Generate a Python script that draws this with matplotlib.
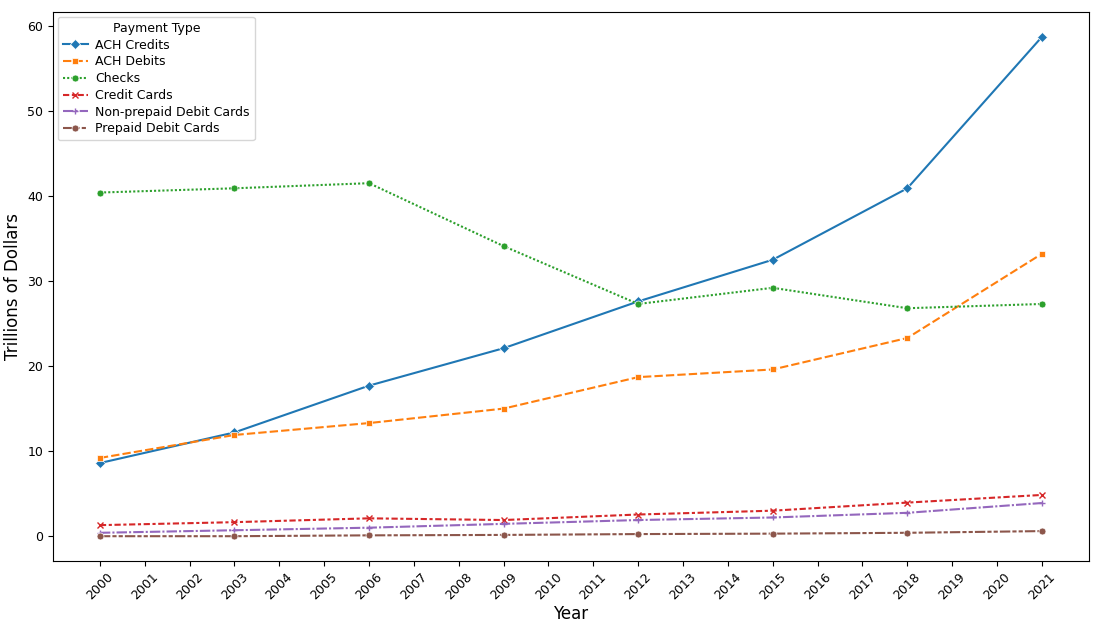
import matplotlib
matplotlib.use("Agg")
import matplotlib.pyplot as plt

years = [2000, 2003, 2006, 2009, 2012, 2015, 2018, 2021]
ach_credits = [8.6, 12.2, 17.7, 22.1, 27.6, 32.5, 40.9, 58.7]
ach_debits = [9.2, 11.9, 13.3, 15.0, 18.7, 19.6, 23.3, 33.2]
checks = [40.4, 40.9, 41.5, 34.1, 27.3, 29.2, 26.8, 27.3]
credit_cards = [1.3, 1.65, 2.1, 1.9, 2.55, 3.0, 3.95, 4.85]
nonprepaid_debit = [0.4, 0.7, 1.0, 1.45, 1.9, 2.2, 2.75, 3.9]
prepaid_debit = [0.0, 0.0, 0.1, 0.15, 0.25, 0.3, 0.4, 0.6]
tick_years = list(range(2000, 2022))

series = [
    ("ACH Credits", ach_credits, "#1f77b4", "D", (None, None)),
    ("ACH Debits", ach_debits, "#ff7f0e", "s", (4, 1.5)),
    ("Checks", checks, "#2ca02c", "o", (1, 1)),
    ("Credit Cards", credit_cards, "#d62728", "x", (3, 1.25, 1.5, 1.25)),
    ("Non-prepaid Debit Cards", nonprepaid_debit, "#9467bd", "+", (5, 1, 1, 1)),
    ("Prepaid Debit Cards", prepaid_debit, "#8c564b", "o", (5, 1, 2, 1, 2, 1)),
]

fig = plt.figure(figsize=(11, 6.27), dpi=100)
ax = fig.add_axes([0.048, 0.105, 0.942, 0.876])
for name, vals, color, marker, dash in series:
    lined = marker in ("x", "+")
    line, = ax.plot(years, vals, color=color, marker=marker,
                    markersize=4.5 if lined else 5,
                    linewidth=1.5, label=name,
                    markeredgecolor=color if lined else "white",
                    markeredgewidth=1 if lined else 0.5)
    if dash[0] is not None:
        line.set_dashes(dash)

ax.set_xticks(tick_years)
ax.set_xticklabels([str(y) for y in tick_years], rotation=45)
ax.tick_params(labelsize=9)
ax.set_xlabel("Year", fontsize=12, labelpad=2)
ax.set_ylabel("Trillions of Dollars", fontsize=12)
ax.legend(title="Payment Type", loc="upper left", fontsize=9,
          title_fontsize=9, borderaxespad=0.4, handletextpad=0.6,
          labelspacing=0.3)
fig.savefig("out.png", dpi=100)
